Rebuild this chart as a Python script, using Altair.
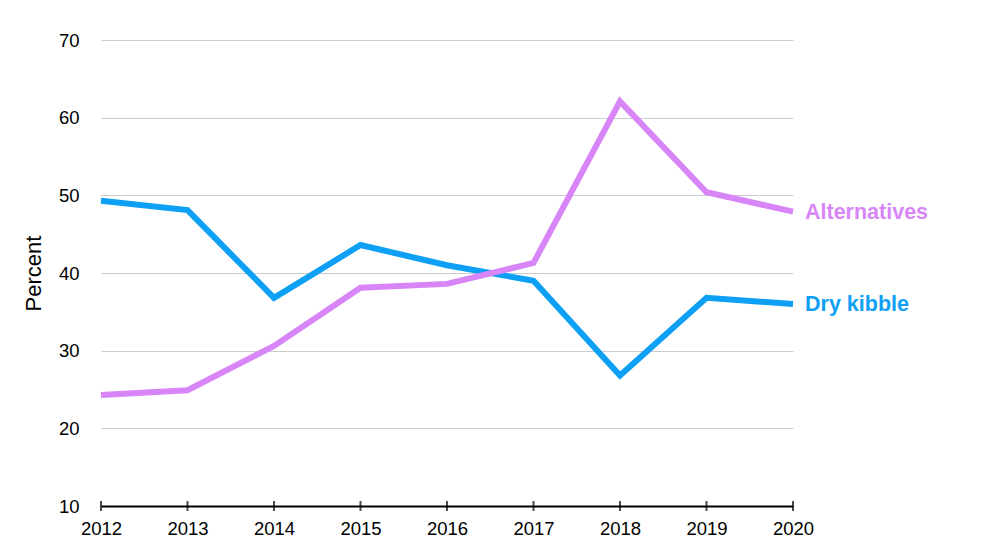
import altair as alt
import pandas as pd

years = [2012, 2013, 2014, 2015, 2016, 2017, 2018, 2019, 2020]
dry_kibble = [49.3, 48.1, 36.8, 43.6, 41.0, 39.0, 26.8, 36.8, 36.0]
alternatives = [24.3, 24.9, 30.6, 38.1, 38.6, 41.3, 62.1, 50.4, 47.9]
series_names = ["Dry kibble", "Alternatives"]
series_colors = ["#0ea0f5", "#d785f7"]

rows = []
for y, d, a in zip(years, dry_kibble, alternatives):
    rows.append({"year": y, "value": d, "series": "Dry kibble"})
    rows.append({"year": y, "value": a, "series": "Alternatives"})
df = pd.DataFrame(rows)
last = df[df["year"] == years[-1]]
ticks_df = pd.DataFrame({"year": years, "value": [10] * len(years)})

FONT = "Liberation Sans"

xscale = alt.Scale(domain=[2012, 2020], nice=False, zero=False)
yscale = alt.Scale(domain=[10, 70], nice=False, zero=False)

x = alt.X("year:Q", scale=xscale,
          axis=alt.Axis(values=years, format="d", title=None, grid=False,
                        domain=True, domainColor="black", domainWidth=2,
                        ticks=False, labelFontSize=18.5, labelColor="black",
                        labelPadding=13, labelFont=FONT, labelFlush=False,
                        labelOverlap=False))
y = alt.Y("value:Q", scale=yscale,
          axis=alt.Axis(values=[10, 20, 30, 40, 50, 60, 70], title="Percent",
                        titleFontSize=22, titleFontWeight="normal", titleColor="black",
                        titleFont=FONT, titlePadding=13,
                        domain=False, ticks=False, grid=True, gridColor="#cccccc",
                        gridWidth=1, labelFontSize=18.5, labelColor="black",
                        labelPadding=22, labelFont=FONT, labelFlush=False))
color = alt.Color("series:N", scale=alt.Scale(domain=series_names, range=series_colors),
                  legend=None)

lines = alt.Chart(df).mark_line(strokeWidth=6, strokeJoin="miter", strokeCap="butt").encode(
    x=x, y=y, color=color)

labels = alt.Chart(last).mark_text(align="left", dx=12, dy=1, fontSize=21.5, fontWeight="bold",
                                   font=FONT).encode(
    x=x, y=y, color=color, text="series:N")

tks = alt.Chart(ticks_df).mark_tick(orient="vertical", size=10, thickness=2, color="black").encode(
    x=x, y=y)

chart = alt.layer(lines, tks, labels).properties(
    width=692, height=466,
    background="white",
    autosize=alt.AutoSizeParams(type="none"),
    padding={"left": 93, "top": 32, "right": 190, "bottom": 45},
).configure_view(strokeWidth=0, stroke=None)

chart.save("out.html", embed_options={"renderer": "svg", "actions": False})
